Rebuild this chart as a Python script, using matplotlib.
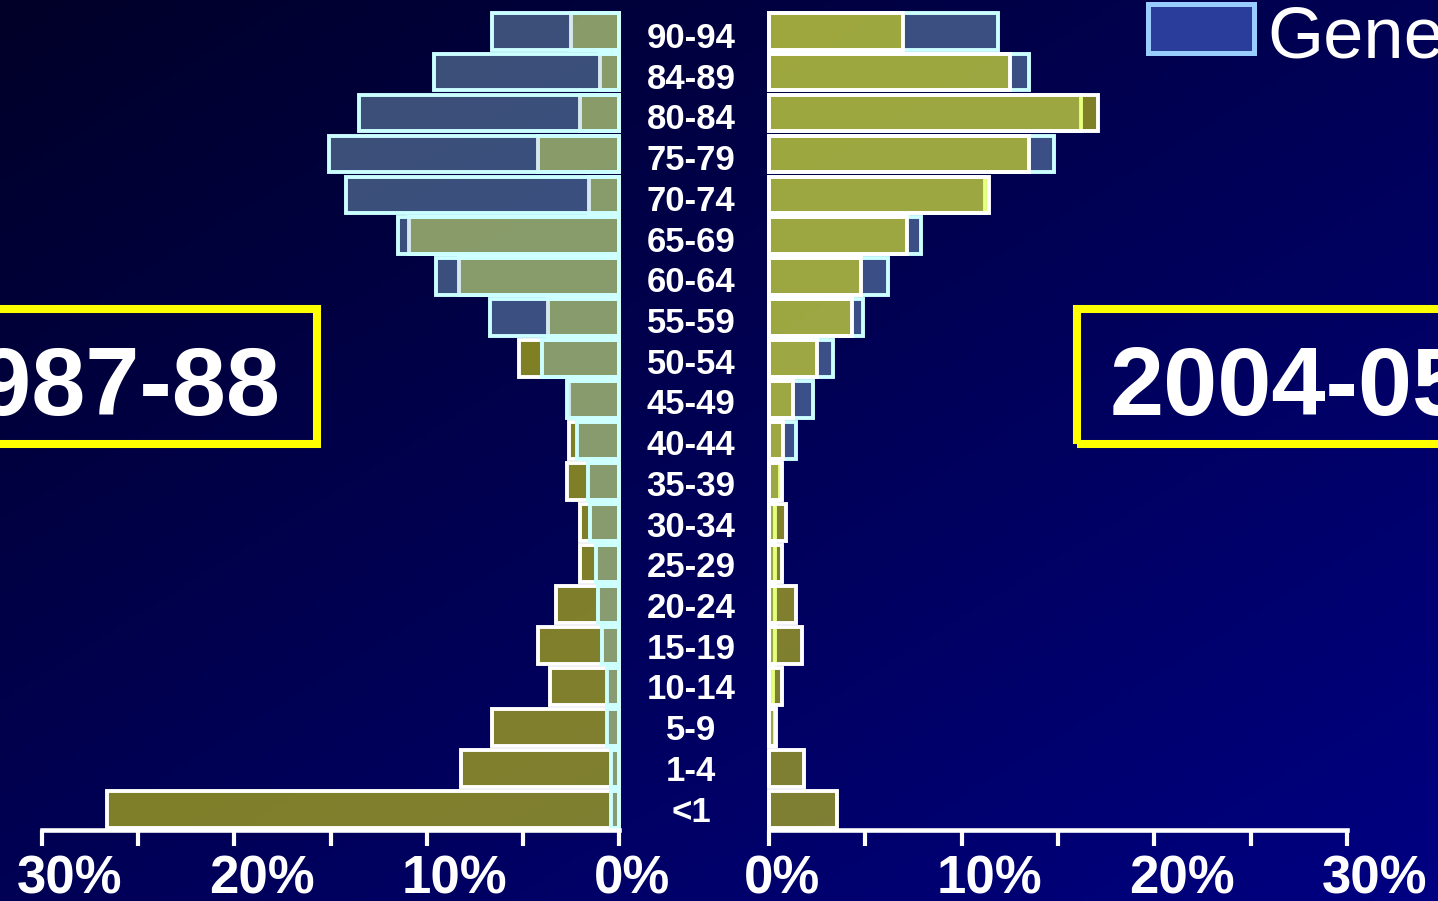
import numpy as np
import matplotlib
matplotlib.use("Agg")
import matplotlib.pyplot as plt
from matplotlib.patches import Rectangle
from matplotlib.transforms import ScaledTranslation, blended_transform_factory

# ---------- data (percent of deaths by age group) ----------
AGE_GROUPS = ["90-94", "84-89", "80-84", "75-79", "70-74", "65-69", "60-64",
              "55-59", "50-54", "45-49", "40-44", "35-39", "30-34", "25-29",
              "20-24", "15-19", "10-14", "5-9", "1-4", "<1"]

GENERAL_8788 = [6.6, 9.6, 13.5, 15.1, 14.2, 11.5, 9.5, 6.7, 4.0, 2.7,
                2.2, 1.6, 1.5, 1.2, 1.1, 0.9, 0.6, 0.6, 0.4, 0.4]
GROUP_8788 = [2.5, 1.0, 2.05, 4.2, 1.55, 10.9, 8.3, 3.7, 5.2, 2.6,
              2.6, 2.7, 2.05, 2.05, 3.25, 4.2, 3.6, 6.6, 8.2, 26.6]

GENERAL_0405 = [11.9, 13.5, 16.2, 14.8, 11.2, 7.9, 6.2, 4.9, 3.3, 2.3,
                1.4, 0.55, 0.3, 0.3, 0.3, 0.3, 0.2, 0.3, 0.0, 0.0]
GROUP_0405 = [6.95, 12.5, 17.1, 13.5, 11.4, 7.15, 4.75, 4.3, 2.5, 1.25,
              0.75, 0.65, 0.9, 0.7, 1.4, 1.7, 0.7, 0.35, 1.8, 3.55]

TICKS = [0, 5, 10, 15, 20, 25, 30]
TICK_LABELS = ["0%", "", "10%", "", "20%", "", "30%"]

# ---------- style ----------
W, H, DPI = 1438, 901, 100
YELLOW = (1.0, 1.0, 0.0, 0.5)
BLUE = (0.59, 0.78, 0.85, 0.4)
EDGE_YELLOW = "white"
EDGE_BLUE = "#ccffff"
BAR_LW = 2.8
ROW_PX = 40.97

plt.rcParams["font.family"] = ["Liberation Sans", "DejaVu Sans"]


def fx(px):
    return px / W


def fy(py):
    return 1 - py / H


def px_offset(dx, dy, fig):
    return ScaledTranslation(dx / DPI, dy / DPI, fig.dpi_scale_trans)


def draw_background(fig):
    bg = fig.add_axes([0, 0, 1, 1], zorder=-10)
    gx, gy = np.meshgrid(np.linspace(0, 1, 300), np.linspace(0, 1, 200))
    t = 0.5 * gx + 0.5 * gy
    img = np.zeros((200, 300, 3))
    img[..., 2] = (40 + 90 * t) / 255
    bg.imshow(img, aspect="auto", extent=(0, 1, 0, 1), origin="upper")
    bg.axis("off")


def draw_panel(fig, left_px, right_px, general, group, mirrored):
    ax = fig.add_axes([fx(left_px), fy(830), (right_px - left_px) / W, 830 / H])
    ax.patch.set_alpha(0)
    y = np.arange(len(AGE_GROUPS))[::-1]

    kw = dict(height=0.9, linewidth=BAR_LW, clip_on=False)
    if mirrored:
        # left pyramid: translucent blue sits over the yellow bars
        ax.barh(y, group, color=YELLOW, edgecolor=EDGE_YELLOW, zorder=2, **kw)
        ax.barh(y, general, color=BLUE, edgecolor=EDGE_BLUE, zorder=3, **kw)
        ax.set_xlim(30, 0)
    else:
        ax.barh(y, general, color=BLUE, edgecolor=EDGE_BLUE, zorder=2, **kw)
        ax.barh(y, group, color=YELLOW, edgecolor=EDGE_YELLOW, zorder=3, **kw)
        ax.set_xlim(0, 30)
    ax.set_ylim(-0.5, -0.5 + 830 / ROW_PX)

    ax.set_yticks([])
    ax.set_xticks(TICKS)
    ax.set_xticklabels([])
    ax.tick_params(axis="x", direction="out", length=11.5, width=3, color="white")
    for side in ["top", "left", "right"]:
        ax.spines[side].set_visible(False)
    ax.spines["bottom"].set_color("white")
    ax.spines["bottom"].set_linewidth(3.3)
    ax.spines["bottom"].set_zorder(5)

    # tick labels hang to the left of their tick
    trans = blended_transform_factory(ax.transData, ax.transAxes) + px_offset(-25, -63, fig)
    for v, lab in zip(TICKS, TICK_LABELS):
        if lab:
            ax.text(v, 0, lab, transform=trans, ha="left", va="baseline",
                    fontsize=38, fontweight="bold", color="white", clip_on=False)
    return ax


fig = plt.figure(figsize=(W / DPI, H / DPI), dpi=DPI)
draw_background(fig)

ax_l = draw_panel(fig, 42, 619, GENERAL_8788, GROUP_8788, mirrored=True)
ax_r = draw_panel(fig, 769, 1347, GENERAL_0405, GROUP_0405, mirrored=False)

# age group labels between the two pyramids (slightly tighter spacing than the bars)
n = len(AGE_GROUPS)
for i, age in enumerate(AGE_GROUPS):
    row = n - 1 - i
    shift = -12 - 5.0 * row / (n - 1)
    lab_trans = blended_transform_factory(fig.transFigure, ax_l.transData) + px_offset(0, shift, fig)
    ax_l.text(fx(691), row, age, transform=lab_trans,
              ha="center", va="baseline", fontsize=25, fontweight="bold",
              color="white", clip_on=False)

# period boxes
fig.add_artist(Rectangle((fx(-200), fy(444)), fx(317) - fx(-200), fy(309.5) - fy(444),
                         transform=fig.transFigure, fill=False,
                         edgecolor="#ffff00", linewidth=5.8))
fig.add_artist(Rectangle((fx(1076.7), fy(444)), fx(1700) - fx(1076.7), fy(309.5) - fy(444),
                         transform=fig.transFigure, fill=False,
                         edgecolor="#ffff00", linewidth=5.8))
fig.text(fx(281), fy(415), "1987-88", ha="right", va="baseline",
         fontsize=70, fontweight="bold", color="white")
fig.text(fx(1110), fy(415), "2004-05", ha="left", va="baseline",
         fontsize=70, fontweight="bold", color="white")

# legend swatch
fig.add_artist(Rectangle((fx(1147.5), fy(52.5)), fx(1254) - fx(1147.5), fy(4) - fy(52.5),
                         transform=fig.transFigure, facecolor="#2b3d9b",
                         edgecolor="#99ccff", linewidth=3.6))
fig.text(fx(1267), fy(57), "General", ha="left", va="baseline",
         fontsize=52, color="white")

fig.savefig("out.png", dpi=DPI)
